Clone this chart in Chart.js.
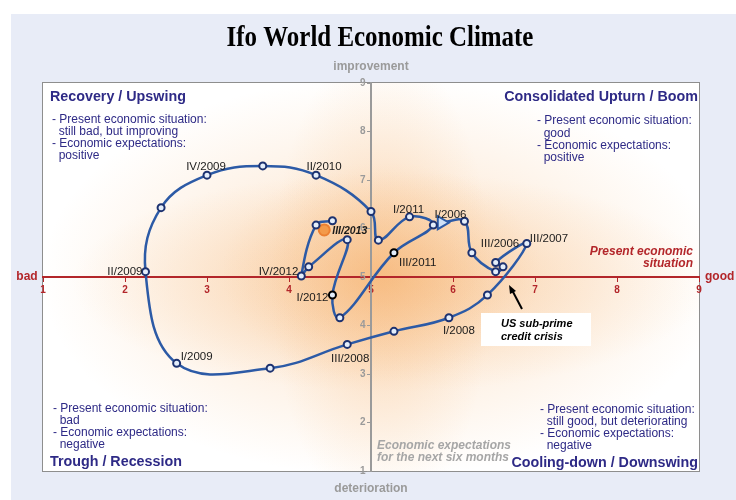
<!DOCTYPE html>
<html lang="en">
<head>
  <meta charset="UTF-8" />
  <title>Ifo World Economic Climate</title>
  <script src="https://cdn.jsdelivr.net/npm/chart.js"></script>
  <style>
    body { margin: 0; background: #fff; }
    canvas { display: block; }
  </style>
</head>
<body>
  <canvas id="clock" width="736" height="500"></canvas>

  <script>
    // quarters I/2006 .. III/2013
    const quarters = [
      "I/2006", "II/2006", "III/2006", "IV/2006",
      "I/2007", "II/2007", "III/2007", "IV/2007",
      "I/2008", "II/2008", "III/2008", "IV/2008",
      "I/2009", "II/2009", "III/2009", "IV/2009",
      "I/2010", "II/2010", "III/2010", "IV/2010",
      "I/2011", "II/2011", "III/2011", "IV/2011",
      "I/2012", "II/2012", "III/2012", "IV/2012",
      "I/2013", "II/2013", "III/2013"
    ];
    // present economic situation (x)
    const situation = [
      5.86, 6.14, 6.23, 6.52,
      6.61, 6.52, 6.90, 6.42,
      5.95, 5.28, 4.71, 3.77,
      2.63, 2.25, 2.44, 3.00,
      3.68, 4.33, 5.00, 5.09,
      5.47, 5.76, 5.28, 4.62,
      4.53, 4.71, 4.24, 4.15,
      4.33, 4.53, 4.43
    ];
    // economic expectations for the next six months (y)
    const expectations = [
      6.12, 6.15, 5.50, 5.11,
      5.21, 5.30, 5.69, 4.63,
      4.16, 3.88, 3.61, 3.12,
      3.22, 5.11, 6.43, 7.10,
      7.29, 7.10, 6.35, 5.76,
      6.24, 6.07, 5.50, 4.16,
      4.63, 5.77, 5.21, 5.02,
      6.07, 6.16, 5.97
    ];
    const xTicks = [1, 2, 3, 4, 5, 6, 7, 8, 9];
    const yTicks = [1, 2, 3, 4, 5, 6, 7, 8, 9];
    // quarters that get a text label
    const labelled = ["I/2006", "III/2006", "III/2007", "I/2008", "III/2008", "I/2009", "II/2009",
      "IV/2009", "II/2010", "I/2011", "III/2011", "I/2012", "IV/2012", "III/2013"];

    const points = quarters.map((q, i) => ({ x: situation[i], y: expectations[i], q }));
    const last = points.length - 1;
    const pathPoints = points.slice(0, last);
    const latest = [points[last]];

    // label placement relative to the marker (style only)
    const labelPos = {
      "I/2006": [9, -8, "center"], "III/2006": [9, -9, "left"], "III/2007": [3, -5, "left"],
      "I/2008": [10, 13, "center"], "III/2008": [3, 14, "center"], "I/2009": [4, -7, "left"],
      "II/2009": [-3, 0, "right"], "IV/2009": [-1, -8, "center"], "II/2010": [8, -8, "center"],
      "I/2011": [-1, -7, "center"], "III/2011": [5, 10, "left"], "I/2012": [-4, 3, "right"],
      "IV/2012": [-3, -4, "right"], "III/2013": [8, 1, "left"]
    };

    const NAVY = "#2e2a86";
    const RED = "#b3262a";
    const GREY = "#9a9a9a";
    const SANS = "'Liberation Sans', Arial, sans-serif";

    function ellipseGlow(ctx, cx, cy, rx, ry, color) {
      ctx.save();
      ctx.translate(cx, cy);
      ctx.scale(1, ry / rx);
      const g = ctx.createRadialGradient(0, 0, 0, 0, 0, rx);
      g.addColorStop(0, color);
      g.addColorStop(1, "rgba(248,190,130,0)");
      ctx.fillStyle = g;
      ctx.fillRect(-rx, -rx, rx * 2, rx * 2);
      ctx.restore();
    }

    const backdrop = {
      id: "backdrop",
      beforeDraw(chart) {
        const { ctx, chartArea: a, scales } = chart;
        ctx.save();
        ctx.fillStyle = "#fff";
        ctx.fillRect(0, 0, chart.width, chart.height);
        ctx.fillStyle = "#e8ecf7";
        ctx.fillRect(11, 14, chart.width - 11, chart.height - 14);
        ctx.fillStyle = "#fff";
        ctx.fillRect(a.left, a.top, a.width, a.height);
        ctx.beginPath();
        ctx.rect(a.left, a.top, a.width, a.height);
        ctx.clip();
        const cx = scales.x.getPixelForValue(5.25);
        const cy = scales.y.getPixelForValue(4.9);
        ellipseGlow(ctx, cx - 10, cy - 5, 340, 200, "rgba(247,185,125,0.45)");
        ellipseGlow(ctx, cx, cy, 320, 110, "rgba(246,180,115,0.45)");
        ellipseGlow(ctx, cx - 10, cy, 110, 240, "rgba(246,180,115,0.35)");
        ellipseGlow(ctx, cx - 10, cy - 10, 160, 110, "rgba(245,175,105,0.35)");
        ctx.restore();
        ctx.save();
        ctx.strokeStyle = "#8e8e8e";
        ctx.lineWidth = 1;
        ctx.strokeRect(a.left - 0.5, a.top - 0.5, a.width + 1, a.height + 1);
        ctx.restore();
      }
    };

    function textLines(ctx, lines, x, y, step) {
      lines.forEach((t, i) => ctx.fillText(t, x, y + i * step));
    }

    const notes = {
      id: "notes",
      afterDraw(chart) {
        const { ctx, chartArea: a, scales } = chart;
        const x5 = scales.x.getPixelForValue(5);
        const y5 = scales.y.getPixelForValue(5);
        ctx.save();
        ctx.textBaseline = "middle";

        // title, condensed serif
        ctx.save();
        ctx.translate(380, 39);
        ctx.scale(0.86, 1);
        ctx.fillStyle = "#000";
        ctx.textAlign = "center";
        ctx.font = "bold 29px 'Liberation Serif', 'Times New Roman', serif";
        ctx.fillText("Ifo World Economic Climate", 0, 0);
        ctx.restore();

        // axis words
        ctx.fillStyle = GREY;
        ctx.font = "bold 12px " + SANS;
        ctx.textAlign = "center";
        ctx.fillText("improvement", x5, 67);
        ctx.fillText("deterioration", x5, 489);
        ctx.fillStyle = RED;
        ctx.font = "bold 12px " + SANS;
        ctx.fillText("bad", 27, y5);
        ctx.textAlign = "left";
        ctx.fillText("good", 705, y5);

        ctx.font = "italic bold 12px " + SANS;
        ctx.textAlign = "right";
        textLines(ctx, ["Present economic", "situation"], 693, 252, 12);
        ctx.textAlign = "left";

        ctx.fillStyle = "#a6a6a6";
        ctx.font = "italic bold 12px " + SANS;
        textLines(ctx, ["Economic expectations", "for the next six months"], 377, 446, 12);

        // quadrants
        ctx.fillStyle = NAVY;
        ctx.font = "bold 14.3px " + SANS;
        ctx.fillText("Recovery / Upswing", 50, 97);
        ctx.fillText("Trough / Recession", 50, 462);
        ctx.textAlign = "right";
        ctx.fillText("Consolidated Upturn / Boom", a.right - 1, 97);
        ctx.fillText("Cooling-down / Downswing", a.right - 1, 463);
        ctx.textAlign = "left";
        ctx.font = "12px " + SANS;
        textLines(ctx, ["- Present economic situation:", "  still bad, but improving",
          "- Economic expectations:", "  positive"], 52, 120, 12);
        textLines(ctx, ["- Present economic situation:", "  good",
          "- Economic expectations:", "  positive"], 537, 121, 12.3);
        textLines(ctx, ["- Present economic situation:", "  bad",
          "- Economic expectations:", "  negative"], 53, 409, 12);
        textLines(ctx, ["- Present economic situation:", "  still good, but deteriorating",
          "- Economic expectations:", "  negative"], 540, 410, 12);

        // sub-prime note
        ctx.fillStyle = "#fff";
        ctx.fillRect(481, 313, 110, 33);
        ctx.fillStyle = "#000";
        ctx.font = "italic bold 11px " + SANS;
        textLines(ctx, ["US sub-prime", "credit crisis"], 501, 324, 13);
        ctx.strokeStyle = "#000";
        ctx.lineWidth = 2;
        ctx.beginPath();
        ctx.moveTo(522, 309);
        ctx.lineTo(512, 290);
        ctx.stroke();
        ctx.beginPath();
        ctx.moveTo(509, 285);
        ctx.lineTo(510, 294);
        ctx.lineTo(516, 291);
        ctx.closePath();
        ctx.fill();

        // point labels
        chart.data.datasets.forEach((ds, di) => {
          const meta = chart.getDatasetMeta(di);
          ds.data.forEach((p, i) => {
            if (!labelled.includes(p.q)) return;
            const [dx, dy, align] = labelPos[p.q];
            const el = meta.data[i];
            ctx.fillStyle = "#1a1a1a";
            ctx.font = p.q === "III/2013" ? "italic bold 10.5px " + SANS : "11.5px " + SANS;
            ctx.textAlign = align;
            ctx.fillText(p.q, el.x + dx, el.y + dy);
          });
        });
        ctx.restore();
      }
    };

    const blackRing = ["III/2011", "I/2012"];

    new Chart(document.getElementById("clock"), {
      type: "scatter",
      data: {
        datasets: [
          {
            data: pathPoints,
            showLine: true,
            tension: 0.4,
            borderColor: "#2c5aa6",
            borderWidth: 2.5,
            pointStyle: ctx => ctx.dataIndex === 0 ? "triangle" : "circle",
            rotation: ctx => ctx.dataIndex === 0 ? 90 : 0,
            pointRadius: ctx => ctx.dataIndex === 0 ? 7.5 : 3.5,
            pointBorderWidth: 2,
            pointBackgroundColor: ctx => ctx.dataIndex === 0 ? "#cfe1f7" : "#e4eefb",
            pointBorderColor: ctx => {
              const p = ctx.raw;
              if (ctx.dataIndex === 0) return "#2c5aa6";
              return p && blackRing.includes(p.q) ? "#000" : "#1d3270";
            }
          },
          {
            data: latest,
            pointRadius: 5.5,
            pointBorderWidth: 2,
            pointBackgroundColor: "#f39a4a",
            pointBorderColor: "#ec8032"
          }
        ]
      },
      options: {
        responsive: false,
        animation: false,
        layout: { padding: { left: 43, right: 37, top: 83, bottom: 29 } },
        scales: {
          x: {
            type: "linear",
            min: 1, max: 9,
            position: { y: 5 },
            afterBuildTicks: s => { s.ticks = xTicks.map(v => ({ value: v })); },
            ticks: { color: RED, font: { size: 10, weight: "bold", family: SANS }, padding: 3 },
            grid: { drawOnChartArea: false, tickLength: 4, color: RED },
            border: { color: RED, width: 2 }
          },
          y: {
            type: "linear",
            min: 1, max: 9,
            position: { x: 5 },
            afterBuildTicks: s => { s.ticks = yTicks.map(v => ({ value: v })); },
            // labels on a value-positioned axis ignore padding, so pad with spaces
            ticks: { color: GREY, font: { size: 10, weight: "bold", family: SANS }, callback: v => v + "  " },
            grid: { drawOnChartArea: false, tickLength: 3, color: GREY },
            border: { color: GREY, width: 2 }
          }
        },
        plugins: {
          legend: { display: false },
          tooltip: { enabled: false },
          title: { display: false }
        }
      },
      plugins: [backdrop, notes]
    });
  </script>
</body>
</html>
